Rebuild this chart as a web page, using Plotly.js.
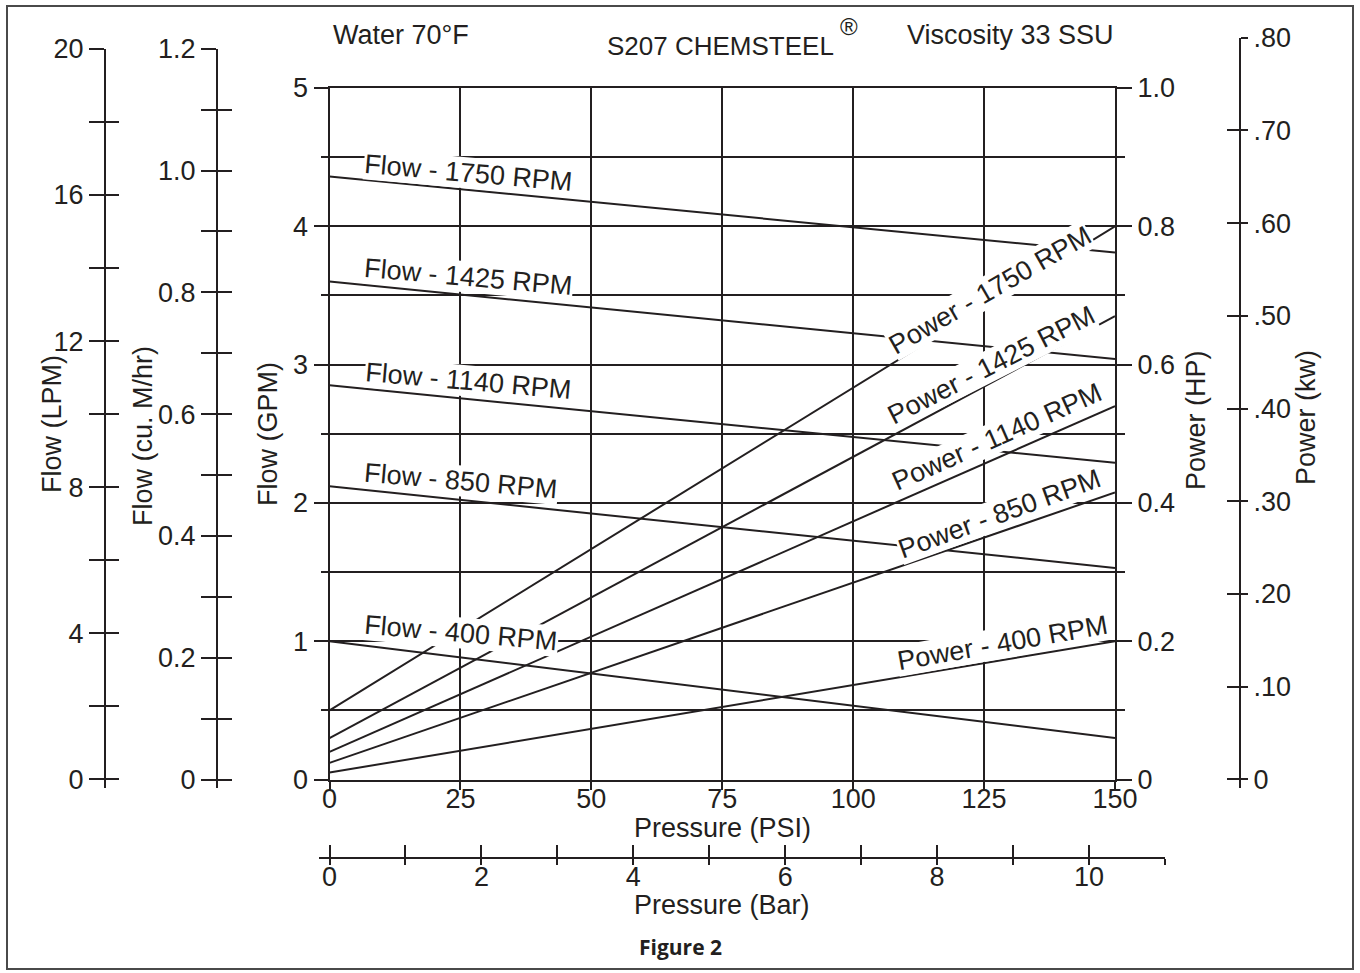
<!DOCTYPE html>
<html><head><meta charset="utf-8">
<script src="https://cdn.plot.ly/plotly-3.0.1.min.js"></script>
<style>html,body{margin:0;padding:0;background:#fff}#chart{width:1360px;height:973px}</style>
</head><body><div id="chart"></div>
<script>
// ---------------- data ----------------
const pressurePsi = [0, 150];
const flow1750 = [4.36, 3.81];
const flow1425 = [3.60, 3.04];
const flow1140 = [2.85, 2.29];
const flow850  = [2.12, 1.53];
const flow400  = [1.00, 0.30];
const power1750 = [0.10, 0.80];
const power1425 = [0.06, 0.67];
const power1140 = [0.04, 0.54];
const power850  = [0.024, 0.415];
const power400  = [0.01, 0.20];
const rpms = ['1750', '1425', '1140', '850', '400'];

const psiTicks = [0, 25, 50, 75, 100, 125, 150];
const gpmTicks = [0, 1, 2, 3, 4, 5];
const gpmMinor = [0.5, 1.5, 2.5, 3.5, 4.5];
const hpTicks = [0, 0.2, 0.4, 0.6, 0.8, 1.0];
const hpLabels = ['0', '0.2', '0.4', '0.6', '0.8', '1.0'];
const hpMinor = [0.1, 0.3, 0.5, 0.7, 0.9];
const lpmTicks = [0, 2, 4, 6, 8, 10, 12, 14, 16, 18, 20];
const lpmLabels = ['0', '', '4', '', '8', '', '12', '', '16', '', '20'];
const m3hTicks = [0, 0.1, 0.2, 0.3, 0.4, 0.5, 0.6, 0.7, 0.8, 0.9, 1.0, 1.1, 1.2];
const m3hLabels = ['0', '', '0.2', '', '0.4', '', '0.6', '', '0.8', '', '1.0', '', '1.2'];
const kwTicks = [0, 0.1, 0.2, 0.3, 0.4, 0.5, 0.6, 0.7, 0.8];
const kwLabels = ['0', '.10', '.20', '.30', '.40', '.50', '.60', '.70', '.80'];
const barTicks = [0, 1, 2, 3, 4, 5, 6, 7, 8, 9, 10, 11];
const barLabels = ['0', '', '2', '', '4', '', '6', '', '8', '', '10', ''];

// ---------------- layout helpers ----------------
const W = 1360, H = 973;
const fx = px => px / W;
const fy = py => 1 - py / H;
const INK = '#231f20';
const FONT = 'Arial, "Liberation Sans", Helvetica, sans-serif';
const X0 = 329.5, X1 = 1115, Y0 = 779.5, Y1 = 88;
const pxPerGPM = (Y0 - Y1) / 5, pxPerHP = (Y0 - Y1) / 1;
const LPM_PER_GPM = 3.78541, M3H_PER_GPM = 0.2271247, KW_PER_HP = 0.7457, PSI_PER_BAR = 14.5038;
const pxPerLPM = pxPerGPM / LPM_PER_GPM;
const pxPerM3H = pxPerGPM / M3H_PER_GPM;
const pxPerKW = pxPerHP / KW_PER_HP;
const pxPerBar = (X1 - X0) / 150 * PSI_PER_BAR;
const EXT = 8;
const tickFont = {family: FONT, size: 27, color: INK};

function sideAxis(range, domain, pos, side, tickvals, ticktext, ticks, len, labels, extra) {
  return Object.assign({
    range: range, domain: domain, anchor: 'free', position: pos, side: side,
    tickmode: 'array', tickvals: tickvals, ticktext: ticktext,
    ticks: ticks, ticklen: len, tickwidth: 2, tickcolor: INK,
    showticklabels: labels, tickfont: tickFont,
    showline: labels, linecolor: INK, linewidth: 2,
    showgrid: false, zeroline: false, fixedrange: true
  }, extra || {});
}

const lpmTopPx = Y0 - 20 * pxPerLPM;
const m3hTopPx = Y0 - 1.2 * pxPerM3H;
const kwTopPx = Y0 - 0.8 * pxPerKW;
const lpmDom = [fy(Y0 + EXT), fy(lpmTopPx)];
const m3hDom = [fy(Y0 + EXT), fy(m3hTopPx)];
const kwDom = [fy(Y0 + EXT), fy(kwTopPx)];
const lpmRange = [-EXT / pxPerLPM, 20];
const m3hRange = [-EXT / pxPerM3H, 1.2];
const kwRange = [-EXT / pxPerKW, 0.8];
const barLeftPx = 319;
const barRange = [(barLeftPx - X0) / pxPerBar, 11];
const barDom = [fx(barLeftPx), fx(X0 + 11 * pxPerBar)];
const barPos = fy(858);

// ---------------- traces ----------------
const line = {color: INK, width: 2};
const flows = [flow1750, flow1425, flow1140, flow850, flow400];
const powers = [power1750, power1425, power1140, power850, power400];
const traces = [];
flows.forEach((f, i) => traces.push({x: pressurePsi, y: f, mode: 'lines', line: line, name: 'Flow - ' + rpms[i] + ' RPM', showlegend: false, hoverinfo: 'skip'}));
powers.forEach((p, i) => traces.push({x: pressurePsi, y: p, yaxis: 'y2', mode: 'lines', line: line, name: 'Power - ' + rpms[i] + ' RPM', showlegend: false, hoverinfo: 'skip'}));
// empty traces that register the auxiliary axes
[['x4', 'y3'], ['x4', 'y4'], ['x4', 'y5'], ['x4', 'y6'], ['x4', 'y7'], ['x4', 'y8'], ['x2', 'y9'], ['x3', 'y9']].forEach(p =>
  traces.push({x: [null], y: [null], xaxis: p[0], yaxis: p[1], mode: 'lines', showlegend: false, hoverinfo: 'skip'}));

// ---------------- annotations ----------------
const labFont = {family: FONT, size: 27, color: INK};
const flowLabelPos = [[26.6, 4.382], [26.6, 3.637], [26.6, 2.878], [25.2, 2.162], [25.2, 1.056]];
const powerLabelPos = [[126.2, 0.708], [126.4, 0.600], [127.4, 0.495], [127.9, 0.384], [128.5, 0.197]];
const powerAngles = [-30, -27, -24, -20, -10];
const ann = [];
rpms.forEach((r, i) => {
  ann.push({xref: 'x', yref: 'y', x: flowLabelPos[i][0], y: flowLabelPos[i][1], text: 'Flow - ' + r + ' RPM',
    textangle: 5, showarrow: false, bgcolor: '#ffffff', borderpad: 0, font: labFont});
  ann.push({xref: 'x', yref: 'y2', x: powerLabelPos[i][0], y: powerLabelPos[i][1], text: 'Power - ' + r + ' RPM',
    textangle: powerAngles[i], showarrow: false, bgcolor: '#ffffff', borderpad: 0, font: labFont});
});
function paperText(text, px, py, opts) {
  return Object.assign({xref: 'paper', yref: 'paper', x: fx(px), y: fy(py), text: text, showarrow: false,
    xanchor: 'center', yanchor: 'middle', font: {family: FONT, size: 27, color: INK}}, opts || {});
}
ann.push(paperText('Water 70°F', 331, 35, {xanchor: 'left'}));
ann.push(paperText('S207 CHEMSTEEL', 720, 46, {font: {family: FONT, size: 26, color: INK}}));
ann.push(paperText('®', 849, 27, {font: {family: FONT, size: 24, color: INK}}));
ann.push(paperText('Viscosity 33 SSU', 905, 35, {xanchor: 'left'}));
ann.push(paperText('Pressure (PSI)', 722, 828));
ann.push(paperText('Pressure (Bar)', 722, 905));
ann.push(paperText('<b>Figure 2</b>', 680, 947, {font: {family: 'Open Sans, Noto Sans, sans-serif', size: 21, color: INK}}));
ann.push(paperText('Flow (LPM)', 52, 424, {textangle: -90}));
ann.push(paperText('Flow (cu. M/hr)', 143, 436, {textangle: -90}));
ann.push(paperText('Flow (GPM)', 268, 434, {textangle: -90}));
ann.push(paperText('Power (HP)', 1196, 420, {textangle: -90}));
ann.push(paperText('Power (kw)', 1306, 418, {textangle: -90}));

// ---------------- layout ----------------
const layout = {
  width: W, height: H,
  margin: {l: 0, r: 0, t: 0, b: 0, pad: 0},
  paper_bgcolor: '#ffffff', plot_bgcolor: 'rgba(0,0,0,0)',
  showlegend: false,
  font: {family: FONT, color: INK},
  xaxis: {
    domain: [fx(X0), fx(X1)], range: [0, 150], anchor: 'y',
    tickmode: 'array', tickvals: psiTicks, ticks: 'outside', ticklen: 8, tickwidth: 2, tickcolor: INK,
    tickfont: tickFont, ticklabelstandoff: -14, showgrid: true, gridcolor: INK, gridwidth: 2,
    showline: true, linecolor: INK, linewidth: 2, mirror: true, zeroline: false, fixedrange: true
  },
  yaxis: {
    domain: [fy(Y0), fy(Y1)], range: [0, 5], anchor: 'x',
    tickmode: 'array', tickvals: gpmTicks, ticks: 'outside', ticklen: 14, tickwidth: 2, tickcolor: INK,
    tickfont: tickFont, showgrid: true, gridcolor: INK, gridwidth: 2,
    minor: {tickmode: 'array', tickvals: gpmMinor, ticks: 'outside', ticklen: 7, tickwidth: 2, tickcolor: INK,
      showgrid: true, gridcolor: INK, gridwidth: 2},
    showline: true, linecolor: INK, linewidth: 2, mirror: true, zeroline: false, fixedrange: true
  },
  yaxis2: {
    overlaying: 'y', side: 'right', anchor: 'x', range: [0, 1],
    tickmode: 'array', tickvals: hpTicks, ticktext: hpLabels, ticks: 'outside', ticklen: 15, tickwidth: 2, tickcolor: INK,
    tickfont: tickFont, showgrid: false,
    minor: {tickmode: 'array', tickvals: hpMinor, ticks: 'outside', ticklen: 8, tickwidth: 2, tickcolor: INK, showgrid: false},
    showline: true, linecolor: INK, linewidth: 2, zeroline: false, fixedrange: true
  },
  yaxis3: sideAxis(lpmRange, lpmDom, fx(105), 'left', lpmTicks, lpmLabels, 'outside', 15, true),
  yaxis4: sideAxis(lpmRange, lpmDom, fx(105), 'left', lpmTicks, lpmLabels, 'inside', 13, false, {overlaying: 'y3'}),
  yaxis5: sideAxis(m3hRange, m3hDom, fx(217), 'left', m3hTicks, m3hLabels, 'outside', 15, true),
  yaxis6: sideAxis(m3hRange, m3hDom, fx(217), 'left', m3hTicks, m3hLabels, 'inside', 14, false, {overlaying: 'y5'}),
  yaxis7: sideAxis(kwRange, kwDom, fx(1240), 'right', kwTicks, kwLabels, 'outside', 7, true),
  yaxis8: sideAxis(kwRange, kwDom, fx(1240), 'right', kwTicks, kwLabels, 'inside', 13, false, {overlaying: 'y7'}),
  xaxis2: sideAxis(barRange, barDom, barPos, 'bottom', barTicks, barLabels, 'outside', 6, true, {ticklabelstandoff: -11}),
  xaxis3: sideAxis(barRange, barDom, barPos, 'bottom', barTicks, barLabels, 'inside', 13, false, {overlaying: 'x2'}),
  xaxis4: {visible: false, domain: [0, 1], range: [0, 1], anchor: 'free', position: 0, fixedrange: true},
  yaxis9: {visible: false, domain: [0, 1], range: [0, 1], anchor: 'free', position: 0, fixedrange: true},
  annotations: ann,
  shapes: [{type: 'rect', xref: 'paper', yref: 'paper', x0: fx(7), x1: fx(1353), y0: fy(6), y1: fy(969),
    line: {color: '#4a4a4a', width: 2}, fillcolor: 'rgba(0,0,0,0)', layer: 'below'}]
};

Plotly.newPlot('chart', traces, layout, {staticPlot: true, displayModeBar: false});
</script>
</body></html>
